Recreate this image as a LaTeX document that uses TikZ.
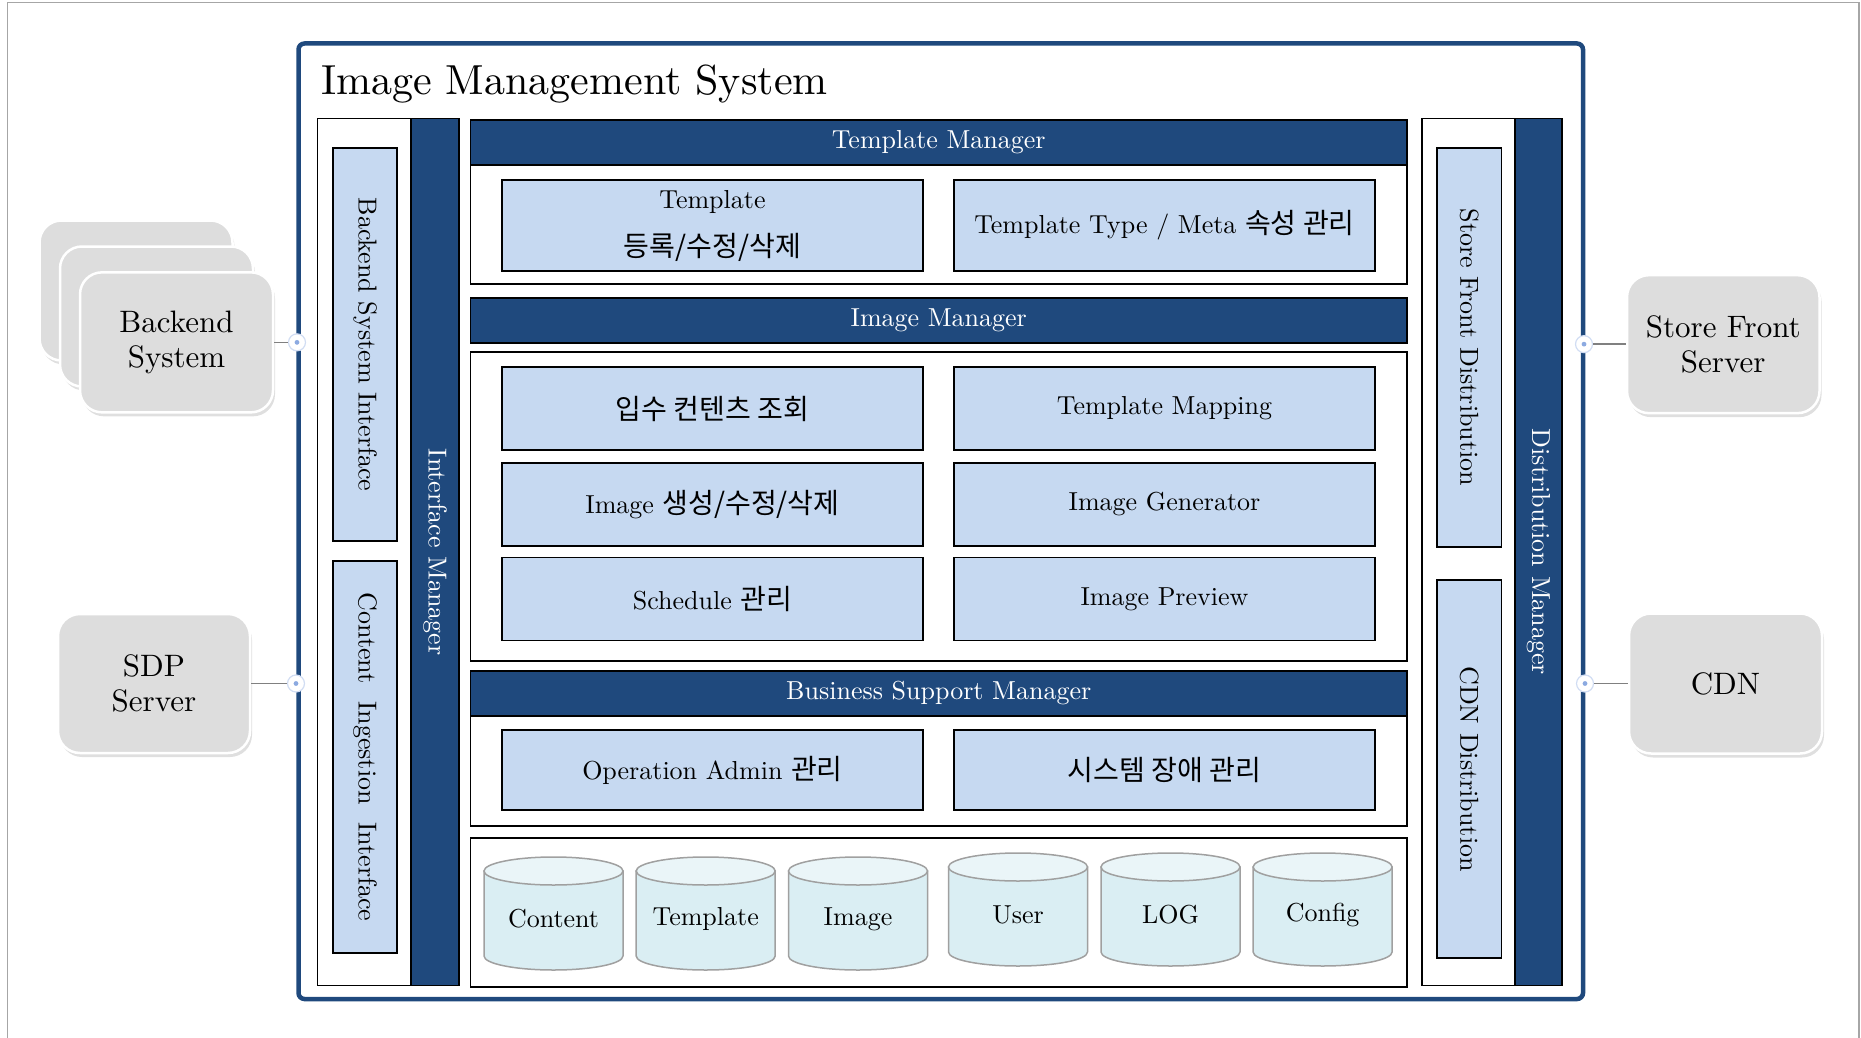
\documentclass[tikz,border=0pt]{standalone}
\usepackage{fontspec}
\usepackage{tikz}
\usetikzlibrary{shadows}

\setmainfont{lmroman10-regular.otf}
\newfontfamily\krfont[Scale=1.08]{Noto Sans CJK KR}
\newcommand{\hangul}[1]{{\krfont #1}}

\definecolor{navy}{RGB}{31,73,125}
\definecolor{paleblue}{RGB}{198,217,241}
\definecolor{servergray}{RGB}{221,221,221}
\definecolor{cylbody}{RGB}{218,238,243}
\definecolor{cyltop}{RGB}{234,245,248}
\definecolor{cyledge}{RGB}{160,160,160}
\definecolor{pagegray}{RGB}{166,166,166}
\definecolor{dotblue}{RGB}{140,170,225}

\begin{document}
\begin{tikzpicture}[x=1pt, y=-1pt,
    every node/.style={font=\fontsize{26}{31}\selectfont, inner sep=0pt},
    frame/.style={draw=navy, line width=4.5, rounded corners=6},
    panel/.style={draw=black, line width=1.8, fill=white},
    header/.style={draw=black, line width=1.8, fill=navy, text=white,
                   minimum width=936.5, minimum height=45},
    module/.style={draw=black, line width=1.8, fill=paleblue,
                   minimum width=421, align=center},
    strip/.style={draw=black, line width=1.8, fill=navy, text=white,
                  rotate=-90, minimum width=867},
    sidebox/.style={draw=black, line width=1.8, fill=paleblue,
                    rotate=-90, minimum height=64.5},
    server/.style={draw=white, line width=2.5, fill=servergray,
                   rounded corners=22, align=center,
                   font=\fontsize{31}{35}\selectfont,
                   minimum width=193, minimum height=140,
                   drop shadow={shadow xshift=2pt, shadow yshift=-4pt,
                                opacity=0.25}},
    plug/.style={circle, minimum size=17, fill=white,
                 draw=dotblue!40, line width=1.2,
                 path picture={\fill[dotblue]
                   (path picture bounding box.center) circle (2.4);}},
    wire/.style={draw=gray, line width=1.5}]

  % Fix the page to the size of the picture
  \useasboundingbox (0,0) rectangle (1861,1038);

  % Page border (open at the bottom)
  \draw[pagegray, line width=1.5] (7.5,1038) -- (7.5,2.7)
    -- (1858.9,2.7) -- (1858.9,1038);

  % The system frame and its title
  \node[frame, minimum width=1284.5, minimum height=955.5]
    (ims) at (940.75,521.25) {};
  \node[anchor=base west, font=\fontsize{42}{50}\selectfont]
    (title) at (321,95) {Image Management System};

  % Interface side on the left
  \node[panel, minimum width=141.5, minimum height=867]
    (left) at (388.25,552) {};
  \node[strip, minimum height=48] (ifm) at (435,552) {Interface Manager};
  \node[sidebox, minimum width=393] (bsi) at (365,344.5)
    {Backend System Interface};
  \node[sidebox, minimum width=392] (cii) at (365,757)
    {Content\hspace{9pt} Ingestion\hspace{9pt} Interface};

  % Distribution side on the right
  \node[panel, minimum width=140, minimum height=867]
    (right) at (1492,552) {};
  \node[strip, minimum height=47] (dm) at (1538.5,552)
    {Distribution Manager};
  \node[sidebox, minimum width=399] (sfd) at (1469.25,347.5)
    {Store Front Distribution};
  \node[sidebox, minimum width=378] (cdnd) at (1469.25,769)
    {CDN Distribution};

  % Template Manager
  \node[header] (tm) at (938.75,142.5) {Template Manager};
  \node[panel, minimum width=936.5, minimum height=119]
    (tmbox) at (938.75,224.5) {};
  \node[module, minimum height=91, font=\fontsize{26}{48}\selectfont]
    (tplreg) at (712.5,225.5) {Template\\\hangul{등록/수정/삭제}};
  \node[module, minimum height=91] (tpltype) at (1164.5,225.5)
    {Template Type / Meta \hangul{속성 관리}};

  % Image Manager
  \node[header] (im) at (938.75,320.2) {Image Manager};
  \node[panel, minimum width=936.5, minimum height=309.3]
    (imbox) at (938.75,506.35) {};
  \node[module, minimum height=83] (query) at (712.5,408.5)
    {\hangul{입수 컨텐츠 조회}};
  \node[module, minimum height=83] (mapping) at (1164.5,408.5)
    {Template Mapping};
  \node[module, minimum height=83] (imgedit) at (712.5,504.25)
    {Image \hangul{생성/수정/삭제}};
  \node[module, minimum height=83] (generator) at (1164.5,504.25)
    {Image Generator};
  \node[module, minimum height=83] (schedule) at (712.5,599)
    {Schedule \hangul{관리}};
  \node[module, minimum height=83] (preview) at (1164.5,599)
    {Image Preview};

  % Business Support Manager
  \node[header] (bsm) at (938.75,693.5) {Business Support Manager};
  \node[panel, minimum width=936.5, minimum height=110]
    (bsmbox) at (938.75,771) {};
  \node[module, minimum height=80] (opadmin) at (712.5,770)
    {Operation Admin \hangul{관리}};
  \node[module, minimum height=80] (fault) at (1164.5,770)
    {\hangul{시스템 장애 관리}};

  % Storage
  \node[panel, minimum width=936.5, minimum height=149]
    (dbbox) at (938.75,912.5) {};
  \foreach \cx/\ty/\nm/\lab in {553.5/857/dbcontent/Content,
      705.7/857/dbtemplate/Template, 858/857/dbimage/Image,
      1018/853/dbuser/User, 1170.5/853/dblog/LOG,
      1322.6/853/dbconfig/Config}
  {
    \pgfmathsetmacro{\by}{\ty+113}
    \filldraw[fill=cylbody, draw=cyledge, line width=1.5]
      (\cx-69.5,\ty+14) -- (\cx-69.5,\by-14)
      arc[start angle=180, end angle=0, x radius=69.5, y radius=14]
      -- (\cx+69.5,\ty+14) -- cycle;
    \filldraw[fill=cyltop, draw=cyledge, line width=1.5]
      (\cx,\ty+14) ellipse [x radius=69.5, y radius=14];
    \node (\nm) at (\cx,\ty+62) {\lab};
  }

  % Outside systems
  \node[server] (backback) at (136,290.5) {};
  \node[server] (backmid) at (156.5,316.5) {};
  \node[server] (backend) at (176.5,342.35) {Backend\\System};
  \node[server, minimum width=192, minimum height=139]
    (sdp) at (154,683.5) {SDP\\Server};
  \node[server, minimum width=192.5, minimum height=138]
    (store) at (1723.25,344.15) {Store Front\\Server};
  \node[server] (cdn) at (1725.5,683.5) {CDN};

  % Connectors to the frame
  \node[plug] (plugbackend) at (297,342.35) {};
  \node[plug] (plugsdp) at (296,683.5) {};
  \node[plug] (plugstore) at (1584,344.15) {};
  \node[plug] (plugcdn) at (1585,683.5) {};
  \draw[wire] (backend) -- (plugbackend);
  \draw[wire] (sdp) -- (plugsdp);
  \draw[wire] (store) -- (plugstore);
  \draw[wire] (cdn) -- (plugcdn);
\end{tikzpicture}
\end{document}
